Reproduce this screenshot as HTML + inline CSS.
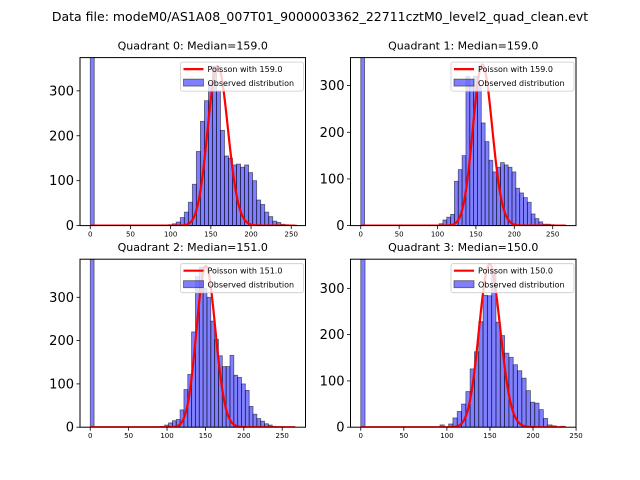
<!DOCTYPE html>
<html><head><meta charset="utf-8"><style>
body{margin:0;background:#fff;}
svg{display:block;font-family:"DejaVu Sans","Liberation Sans",sans-serif;}
</style></head><body>
<svg id="fig" width="640" height="480" viewBox="0 0 640 480">
<rect width="640" height="480" fill="#fff"/>
<text x="320" y="21" text-anchor="middle" font-size="12.5">Data file: modeM0/AS1A08_007T01_9000003362_22711cztM0_level2_quad_clean.evt</text>
</svg>
<script>
const binWidth = 5;
const titles = ["Quadrant 0: Median=159.0","Quadrant 1: Median=159.0","Quadrant 2: Median=151.0","Quadrant 3: Median=150.0"];
const medians = [159, 159, 151, 150];
const poissonPeaks = [355, 345, 372, 352];
const xMaxes = [255, 267, 267, 238];
const yMaxes = [374, 360, 388, 363];
const yTicks = [0, 100, 200, 300];
const xTicks = [0, 50, 100, 150, 200, 250];
const zeroBin = [2000, 2000, 2000, 2000];
const startBins = [97, 102, 87, 92];
const counts0 = [2,4,8,18,30,52,92,165,232,278,318,355,300,212,155,150,135,137,130,135,118,100,57,47,30,20,10,7,3,2,1,1];
const counts1 = [4,12,18,24,95,120,150,320,300,320,300,220,180,140,115,125,135,130,125,115,80,70,60,50,25,15,8,3,3,2,1,1];
const counts2 = [1,2,5,10,15,18,40,87,122,220,348,370,320,300,245,203,165,140,140,166,120,115,100,85,48,30,20,14,8,5,2,1,1];
const counts3 = [5,1,7,20,34,50,77,126,163,228,285,284,341,227,198,160,151,135,122,106,79,54,52,38,19,5,3,0,2];
const allCounts = [counts0, counts1, counts2, counts3];

const NS = "http://www.w3.org/2000/svg";
const svg = document.getElementById('fig');
function mk(tag, attrs, parent){const e=document.createElementNS(NS,tag);for(const k in attrs)e.setAttribute(k,attrs[k]);(parent||svg).appendChild(e);return e;}
const boxes = [[80,57.6,225.5,168],[350.5,57.6,225.5,168],[80,259.2,225.5,168],[350.5,259.2,225.5,168]];
const FILL='rgba(0,0,255,0.5)', EDGE='rgba(0,0,0,0.55)';

function lgamma(n){let s=0;for(let i=2;i<=n;i++)s+=Math.log(i);return s;}

for(let q=0;q<4;q++){
  const [L,T,W,H]=boxes[q];
  const xmax=xMaxes[q], m=xmax*0.05, x0=-m, x1=xmax+m;
  const xs=v=>L+(v-x0)/(x1-x0)*W;
  const ys=v=>T+H-v/yMaxes[q]*H;
  const g=mk('g',{});
  
  
  const cp=mk('clipPath',{id:'c'+q},g);
  mk('rect',{x:L,y:T,width:W,height:H},cp);
  const plot=mk('g',{'clip-path':'url(#c'+q+')'},g);
  const zb=mk('rect',{x:xs(0),y:ys(zeroBin[q]),width:xs(binWidth)-xs(0),height:ys(0)-ys(zeroBin[q]),fill:FILL,stroke:EDGE,'stroke-width':0.8},plot);
  
  
  const c=allCounts[q];
  for(let i=0;i<c.length;i++){
    const b0=startBins[q]+i*binWidth;
    const r=mk('rect',{x:xs(b0),y:ys(c[i]),width:xs(b0+binWidth)-xs(b0),height:ys(0)-ys(c[i]),fill:FILL,stroke:EDGE,'stroke-width':0.8},plot);
    
    
  }
  const lam=medians[q];
  const peakLog=lam*Math.log(lam)-lam-lgamma(Math.floor(lam));
  let d='';
  for(let k=0;k<=xmax;k++){
    const lp=k*Math.log(lam)-lam-lgamma(k);
    const v=poissonPeaks[q]*Math.exp(lp-peakLog);
    d+=(k?'L':'M')+xs(k).toFixed(2)+' '+ys(v).toFixed(2);
  }
  const pl=mk('path',{d:d,fill:'none',stroke:'red','stroke-width':2.2},plot);
  
  
  const fr=mk('rect',{x:L,y:T,width:W,height:H,fill:'none',stroke:'#000','stroke-width':1},g);
  
  
  for(const t of yTicks){
    const y=ys(t);
    mk('line',{x1:L-3.5,x2:L,y1:y,y2:y,stroke:'#000','stroke-width':0.8},g);
    const tx=mk('text',{x:L-6,y:y+4.5,'text-anchor':'end','font-size':13},g);
    tx.textContent=t;
    
    
  }
  for(const t of xTicks){
    const x=xs(t);
    if(x<=L+W+1) mk('line',{x1:x,x2:x,y1:T+H,y2:T+H+3.5,stroke:'#000','stroke-width':0.8},g);
    const tx=mk('text',{x:x,y:T+H+11,'text-anchor':'middle','font-size':7},g);
    tx.textContent=t;
    
    
  }
  const ti=mk('text',{x:L+W/2,y:T-8,'text-anchor':'middle','font-size':11},g);
  ti.textContent=titles[q];
  
  
  const lg=mk('g',{},g);
  
  
  const lx=L+W-125, ly=T+4.5;
  mk('rect',{x:lx,y:ly,width:123,height:29,rx:2,fill:'rgba(255,255,255,0.8)',stroke:'#ccc','stroke-width':0.8},lg);
  mk('line',{x1:lx+3,x2:lx+23,y1:ly+7,y2:ly+7,stroke:'red','stroke-width':2.2},lg);
  const t1=mk('text',{x:lx+27,y:ly+10,'font-size':8},lg);
  t1.textContent='Poisson with '+lam.toFixed(1);
  
  
  mk('rect',{x:lx+3,y:ly+17,width:20,height:7,fill:FILL,stroke:EDGE,'stroke-width':0.8},lg);
  const t2=mk('text',{x:lx+27,y:ly+24,'font-size':8},lg);
  t2.textContent='Observed distribution';
  
  
}
</script>
</body></html>
